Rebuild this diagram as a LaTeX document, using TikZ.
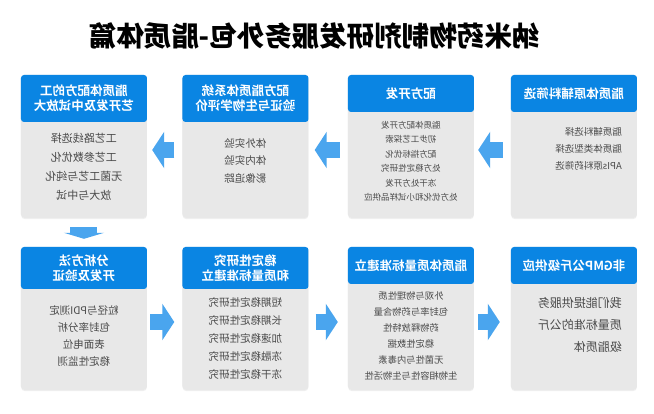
\documentclass[tikz,border=0pt]{standalone}
\usepackage{fontspec}
\setmainfont{Noto Sans CJK SC}
\newfontfamily\titlefont{Noto Sans CJK SC Black}
\newfontfamily\headfont{Noto Sans CJK SC Bold}
\usetikzlibrary{positioning, arrows.meta, shadows}
\definecolor{headblue}{HTML}{0A85E3}
\definecolor{arrowblue}{HTML}{4AA5EE}
\definecolor{cardgray}{HTML}{E8E8E8}
\definecolor{bodytext}{HTML}{4A4A4A}
\tikzset{
	card/.style={fill=cardgray, rounded corners=4pt, minimum width=126pt, minimum height=143pt, inner sep=0pt, drop shadow={opacity=0.12, shadow xshift=0pt, shadow yshift=-1.2pt}},
	head/.style={fill=headblue, text=white, rounded corners=3pt, minimum width=126pt, inner sep=0pt, align=center, font=\headfont\fontsize{12.5}{15}\selectfont},
	body/.style={text=bodytext, inner sep=0pt},
	flow/.style={arrowblue, line width=16pt, -{Triangle[length=12pt, width=36pt]}}
}
\begin{document}
\begin{tikzpicture}[x=1pt, y=-1pt, xscale=-1, transform shape]
			\useasboundingbox[fill=white] (0, 0) rectangle (654, 414);
			\node (title)[font=\titlefont\fontsize{27.5}{30}\selectfont] at (339.5, 36) {纳米药物制剂研发服务外包-脂质体篇};
			\node (c1)[card] at (80, 146.5) {};
			\node (c2)[card] at (243, 146.5) {};
			\node (c3)[card] at (408.5, 146.5) {};
			\node (c4)[card] at (570, 146.5) {};
			\node (c5)[card] at (80, 318.5) {};
			\node (c6)[card] at (243, 318.5) {};
			\node (c7)[card] at (408.5, 318.5) {};
			\node (c8)[card] at (570, 318.5) {};
			\node (h1)[head, minimum height=37pt, anchor=north] at (c1.north) {脂质体原辅料筛选};
			\node (h2)[head, minimum height=37pt, anchor=north] at (c2.north) {配方开发};
			\node (h3)[head, minimum height=47pt, anchor=north] at (c3.north) {配方脂质体系统\\验证与生物学评价};
			\node (h4)[head, minimum height=47pt, anchor=north] at (c4.north) {脂质体配方的工\\艺开发及中试放大};
			\node (h5)[head, minimum height=37pt, anchor=north] at (c5.north) {非GMP公斤级供应};
			\node (h6)[head, minimum height=37pt, anchor=north] at (c6.north) {脂质体质量标准建立};
			\node (h7)[head, minimum height=42pt, anchor=north] at (c7.north) {稳定性研究\\和质量标准建立};
			\node (h8)[head, minimum height=42pt, anchor=north] at (c8.north) {分析方法\\开发及验证};
			\node (b1)[body, align=left, font=\fontsize{9.5}{17}\selectfont, below right=15pt and 15pt of h1.south west] {脂质辅料选择\\脂质体类型选择\\APIs原料药筛选};
			\node (b2)[body, align=center, font=\fontsize{8.5}{14.4}\selectfont, below=9pt of h2] {脂质体配方开发\\初步工艺探索\\配方指标优化\\处方稳定性研究\\冻干处方开发\\处方优化和小试样品供应};
			\node (b3)[body, align=center, font=\fontsize{10.5}{17.5}\selectfont, below=16pt of h3] {体外实验\\体内实验\\影像追踪};
			\node (b4)[body, align=center, font=\fontsize{11}{19}\selectfont, below=11pt of h4] {工艺路线选择\\工艺参数优化\\无菌工艺与纯化\\放大与中试};
			\node (b5)[body, align=left, font=\fontsize{12}{22}\selectfont, below right=13pt and 15pt of h5.south west] {我们能提供服务\\质量标准的公斤\\级脂质体};
			\node (b6)[body, align=center, font=\fontsize{9.3}{16}\selectfont, below=7pt of h6] {外观与物理性质\\包封率与药物含量\\药物释放特性\\稳定性数据\\无菌性与内毒素\\生物相容性与生物活性};
			\node (b7)[body, align=center, font=\fontsize{10.5}{18}\selectfont, below=8pt of h7] {短期稳定性研究\\长期稳定性研究\\加速稳定性研究\\冻融稳定性研究\\冻干稳定性研究};
			\node (b8)[body, align=center, font=\fontsize{10.5}{17}\selectfont, below=16pt of h8] {粒径与PDI测定\\包封率分析\\表面电位\\稳定性监测};
			\draw[flow, shorten <=8pt, shorten >=4pt] ([yshift=-3.5pt]c1.east) -- ([yshift=-3.5pt]c2.west);
			\draw[flow, shorten <=8pt, shorten >=6pt] ([yshift=-3.5pt]c2.east) -- ([yshift=-3.5pt]c3.west);
			\draw[flow, shorten <=8pt, shorten >=5pt] ([yshift=-3.5pt]c3.east) -- ([yshift=-3.5pt]c4.west);
			\draw[flow, line width=27pt, -{Triangle[length=6pt, width=40pt]}, shorten <=9pt, shorten >=8pt] (c4.south) -- (c8.north);
			\draw[flow, shorten <=3pt, shorten >=8pt] ([yshift=-3.5pt]c8.west) -- ([yshift=-3.5pt]c7.east);
			\draw[flow, shorten <=7pt, shorten >=10pt] ([yshift=-3.5pt]c7.west) -- ([yshift=-3.5pt]c6.east);
			\draw[flow, shorten <=4pt, shorten >=11pt] ([yshift=-3.5pt]c6.west) -- ([yshift=-3.5pt]c5.east);
		\end{tikzpicture}
\end{document}
